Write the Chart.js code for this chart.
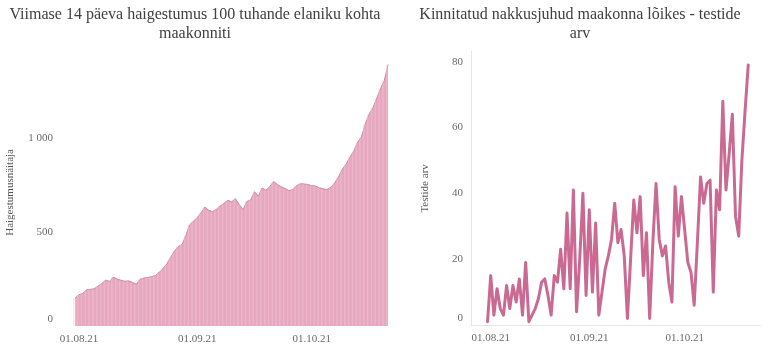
<!DOCTYPE html>
<html><head><meta charset="utf-8">
<script src="https://cdn.jsdelivr.net/npm/chart.js@4"></script>
<style>
html,body{margin:0;padding:0;background:#fff;width:768px;height:357px;overflow:hidden}
#l{position:absolute;left:0;top:0}
#r{position:absolute;left:400px;top:0}
</style></head><body>
<canvas id="l" width="398" height="357"></canvas>
<canvas id="r" width="368" height="357"></canvas>
<script>
// ---- data ----
const firstDay = '31.07.21';
const incidence = [
  149,166,173,192,195,198,212,226,244,237,
  260,250,243,238,240,232,222,248,255,258,
  262,268,285,304,330,364,397,423,432,480,
  538,557,576,602,632,615,608,620,638,652,
  668,660,677,645,618,662,670,714,690,734,
  722,742,768,752,740,731,720,724,746,756,
  755,752,746,744,734,729,725,738,760,793,
  833,860,898,929,976,1005,1072,1125,1158,1210,
  1260,1305,1390
];
const tests = [
  1,15,3,11,5,3,12,5,12,7,
  14,3,19,1,3,5,8,13,14,9,
  3,15,13,23,11,34,11,41,4,20,
  40,9,35,10,31,3,10,17,21,26,
  37,25,29,21,2,20,38,28,39,15,
  28,2,25,43,26,21,24,13,7,42,
  27,39,29,19,16,6,25,45,37,43,
  44,10,41,35,68,41,52,64,33,27,
  50,65,79
];
const xTickLabels = ['01.08.21','01.09.21','01.10.21'];
const incidenceTicks = [0, 500, 1000];
const testTicks = [0, 20, 40, 60, 80];
const leftTitle = ['Viimase 14 päeva haigestumus 100 tuhande elaniku kohta', 'maakonniti'];
const rightTitle = ['Kinnitatud nakkusjuhud maakonna lõikes - testide', 'arv'];
const leftAxisTitle = 'Haigestumusnäitaja';
const rightAxisTitle = 'Testide arv';

// ---- dates (categories) ----
function pad(n){return (n<10?'0':'')+n;}
const [fd, fm, fy] = firstDay.split('.').map(Number);
const dates = [];
for (let i = 0; i < Math.max(incidence.length, tests.length); i++) {
  const d = new Date(Date.UTC(2000 + fy, fm - 1, fd + i));
  dates.push(pad(d.getUTCDate()) + '.' + pad(d.getUTCMonth() + 1) + '.' + String(d.getUTCFullYear()).slice(2));
}
const toPoints = arr => arr.map((v, i) => ({x: i, y: v}));
const xTickValues = xTickLabels.map(l => dates.indexOf(l));

Chart.defaults.font.family = "'Liberation Serif', 'DejaVu Serif', serif";
Chart.defaults.color = '#6a6a6a';

const fmtThousands = v => String(v).replace(/\B(?=(\d{3})+(?!\d))/g, ' ');
const yLabel = v => v === 0 ? ['0', ''] : fmtThousands(v);

function makeX(min, max, border, height) {
  return {
    type: 'linear', min: min, max: max, offset: false,
    grid: {display: false, drawTicks: false, offset: false},
    border: border ? {display: true, color: '#e6e6e6', width: 1} : {display: false},
    afterBuildTicks: s => { s.ticks = xTickValues.map(v => ({value: v})); },
    afterFit: s => { s.height = height; },
    ticks: {padding: 7, font: {size: 11}, maxRotation: 0, autoSkip: false,
            callback: v => dates[v]}
  };
}
function makeY(min, max, ticks, title, titlePad, width, border) {
  return {
    type: 'linear', min: min, max: max,
    grid: {display: false, drawTicks: false},
    border: border ? {display: true, color: '#e6e6e6', width: 1} : {display: false},
    afterBuildTicks: s => { s.ticks = ticks.map(v => ({value: v})); },
    afterFit: s => { s.width = width; },
    ticks: {padding: 8, font: {size: 11}, callback: yLabel},
    title: {display: true, text: title, font: {size: 11}, color: '#555', padding: {top: titlePad, bottom: 0}}
  };
}
function titleOpts(text, bottom) {
  return {display: true, text: text, color: '#404040',
          font: {size: 16, weight: 'normal', lineHeight: 1.15},
          padding: {top: 6, bottom: bottom}};
}

new Chart(document.getElementById('l'), {
  type: 'line',
  data: {datasets: [{
    type: 'line',
    order: 1,
    data: toPoints(incidence),
    fill: 'origin',
    backgroundColor: '#e6a7bf',
    borderColor: '#c58ea2',
    borderWidth: 1,
    pointRadius: 0,
    tension: 0
  }, {
    type: 'bar',
    order: 0,
    data: toPoints(incidence),
    backgroundColor: 'rgba(0,0,0,0)',
    borderColor: 'rgba(244,200,216,0.45)',
    borderWidth: {left: 1, right: 0, top: 0, bottom: 0},
    borderSkipped: false,
    barPercentage: 1,
    categoryPercentage: 1
  }]},
  options: {
    responsive: false, animation: false,
    layout: {padding: {left: 0, right: 8, top: 0, bottom: 0}},
    plugins: {legend: {display: false}, tooltip: {enabled: false}, title: titleOpts(leftTitle, 16)},
    scales: {
      x: makeX(-3.7, 82.5, false, 31),
      y: makeY(0, 1420, incidenceTicks, leftAxisTitle, 3.4, 61, false)
    }
  }
});

new Chart(document.getElementById('r'), {
  type: 'line',
  data: {datasets: [{
    data: toPoints(tests),
    fill: false,
    borderColor: '#ca6a93',
    borderWidth: 3,
    borderJoinStyle: 'round',
    borderCapStyle: 'round',
    pointRadius: 0,
    tension: 0
  }]},
  options: {
    responsive: false, animation: false,
    layout: {padding: {left: 0, right: 8, top: 0, bottom: 0}},
    plugins: {legend: {display: false}, tooltip: {enabled: false}, title: titleOpts(rightTitle, 9)},
    scales: {
      x: makeX(-5.2, 85.7, true, 32),
      y: makeY(0, 83, testTicks, rightAxisTitle, 19, 71, true)
    }
  }
});
</script>
</body></html>
